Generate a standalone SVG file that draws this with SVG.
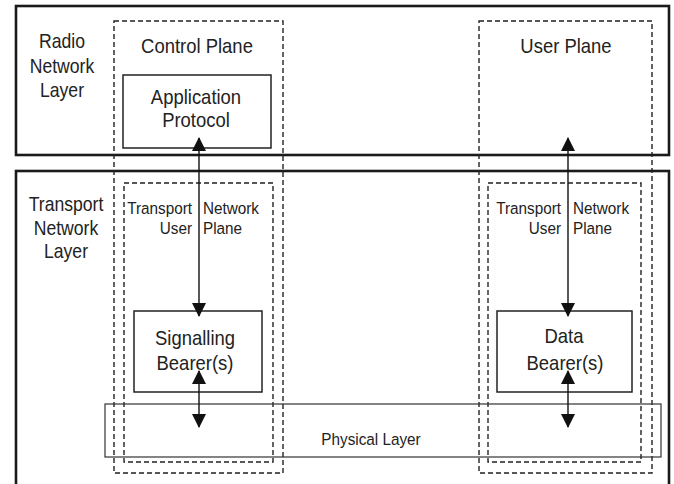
<svg xmlns="http://www.w3.org/2000/svg" width="674" height="484" viewBox="0 0 674 484">
  <style>
    .layer { fill: none; stroke: #1a1a1a; stroke-width: 2.6; }
    .plane { fill: none; stroke: #222; stroke-width: 1.4; stroke-dasharray: 5 3; }
    .box { fill: none; stroke: #222; stroke-width: 1.5; }
    .phy { fill: none; stroke: #333; stroke-width: 1.2; }
    .link { fill: none; stroke: #111; stroke-width: 1.4; }
    text { font-family: "Liberation Sans", Arial, sans-serif; fill: #222; }
    .big { font-size: 20.5px; text-anchor: middle; }
    .lbl { font-size: 20px; text-anchor: middle; }
    .small { font-size: 17px; }
  </style>
  <defs>
    <marker id="head" viewBox="0 0 14 14" refX="13" refY="7" markerWidth="14" markerHeight="14" markerUnits="userSpaceOnUse" orient="auto-start-reverse">
      <path d="M0,0 L14,7 L0,14 Z" fill="#111"/>
    </marker>
  </defs>

  <!-- layers (labels use a narrowed Arial-like face) -->
  <g id="radio-network-layer">
    <rect class="layer" x="16" y="6" width="653" height="149"/>
    <text class="lbl" transform="translate(62,48) scale(0.88,1)">Radio</text>
    <text class="lbl" transform="translate(62,73) scale(0.88,1)">Network</text>
    <text class="lbl" transform="translate(62,97) scale(0.88,1)">Layer</text>
  </g>
  <g id="transport-network-layer">
    <rect class="layer" x="16" y="171" width="653" height="320"/>
    <text class="lbl" transform="translate(66,211) scale(0.88,1)">Transport</text>
    <text class="lbl" transform="translate(66,235) scale(0.88,1)">Network</text>
    <text class="lbl" transform="translate(66,258) scale(0.88,1)">Layer</text>
  </g>

  <!-- planes -->
  <g id="control-plane">
    <rect class="plane" x="114" y="21" width="169" height="452"/>
    <text class="big" transform="translate(197,53) scale(0.9,1)">Control Plane</text>
  </g>
  <g id="user-plane">
    <rect class="plane" x="479" y="21" width="173" height="452"/>
    <text class="big" transform="translate(566,53) scale(0.9,1)">User Plane</text>
  </g>
  <g id="tn-user-plane-control">
    <rect class="plane" x="124" y="183" width="149" height="279"/>
    <text class="small" transform="translate(199,0) scale(0.9,1)"><tspan x="-7.8" y="214" text-anchor="end">Transport</tspan><tspan x="4.4" y="214">Network</tspan><tspan x="-7.8" y="234" text-anchor="end">User</tspan><tspan x="4.4" y="234">Plane</tspan></text>
  </g>
  <g id="tn-user-plane-user">
    <rect class="plane" x="488" y="183" width="153" height="279"/>
    <text class="small" transform="translate(567,0) scale(0.9,1)"><tspan x="-6.7" y="214" text-anchor="end">Transport</tspan><tspan x="6.7" y="214">Network</tspan><tspan x="-6.7" y="234" text-anchor="end">User</tspan><tspan x="6.7" y="234">Plane</tspan></text>
  </g>

  <!-- protocol blocks -->
  <g id="application-protocol">
    <rect class="box" x="123" y="75" width="148" height="73"/>
    <text class="big" transform="translate(196,104) scale(0.9,1)">Application</text>
    <text class="big" transform="translate(196,127) scale(0.9,1)">Protocol</text>
  </g>
  <g id="signalling-bearer">
    <rect class="box" x="134" y="311" width="128" height="81"/>
    <text class="big" transform="translate(195,345) scale(0.9,1)">Signalling</text>
    <text class="big" transform="translate(195,370) scale(0.9,1)">Bearer(s)</text>
  </g>
  <g id="data-bearer">
    <rect class="box" x="497" y="311" width="135" height="81"/>
    <text class="big" transform="translate(564,343) scale(0.9,1)">Data</text>
    <text class="big" transform="translate(565,370) scale(0.9,1)">Bearer(s)</text>
  </g>
  <g id="physical-layer">
    <rect class="phy" x="105" y="404" width="556" height="53"/>
    <text class="small" text-anchor="middle" transform="translate(371,445) scale(0.9,1)">Physical Layer</text>
  </g>

  <!-- connectors -->
  <g id="connectors">
    <line class="link" x1="199" y1="138" x2="199" y2="316" marker-start="url(#head)" marker-end="url(#head)"/>
    <line class="link" x1="568" y1="138" x2="568" y2="316" marker-start="url(#head)" marker-end="url(#head)"/>
    <line class="link" x1="199" y1="371" x2="199" y2="427" marker-start="url(#head)" marker-end="url(#head)"/>
    <line class="link" x1="568" y1="371" x2="568" y2="427" marker-start="url(#head)" marker-end="url(#head)"/>
  </g>
</svg>
